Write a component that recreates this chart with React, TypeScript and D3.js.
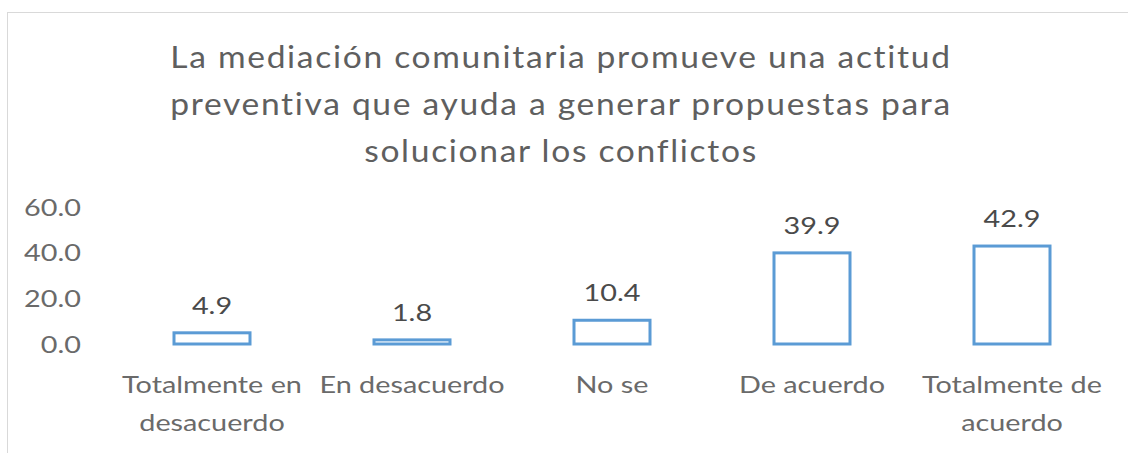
import React from "react";
import * as d3 from "d3";

const titleLines = [
  "La mediación comunitaria promueve una actitud",
  "preventiva que ayuda a generar propuestas para",
  "solucionar los conflictos",
];
const categories = ["Totalmente en desacuerdo", "En desacuerdo", "No se", "De acuerdo", "Totalmente de acuerdo"];
const categoryLines = [
  ["Totalmente en", "desacuerdo"],
  ["En desacuerdo"],
  ["No se"],
  ["De acuerdo"],
  ["Totalmente de", "acuerdo"],
];
const values = [4.9, 1.8, 10.4, 39.9, 42.9];
const yTicks = [0, 20, 40, 60];

const W = 1128;
const H = 453;
const FONT = "Lato, 'Open Sans', sans-serif";
const SX = 1.2;

function Txt({ x, y, children, size, fill, anchor = "middle", sx = SX, ls = 0 }: any) {
  return (
    <g transform={`translate(${x},${y}) scale(${sx},1)`}>
      <text x={0} y={0} fontSize={size} fill={fill} textAnchor={anchor} fontFamily={FONT} fontWeight={400} letterSpacing={ls}>
        {children}
      </text>
    </g>
  );
}

export default function App() {
  const x = d3.scaleBand<string>().domain(categories).range([112, 1112]).paddingInner(0.62).paddingOuter(0.31);
  const y = d3.scaleLinear().domain([0, 60]).range([344, 207]);
  const bw = x.bandwidth();
  return (
    <svg width={W} height={H} style={{ position: "absolute", left: 0, top: 0, background: "#fff" }}>
      <rect x={7.5} y={12.5} width={W + 20} height={H + 20} fill="#fff" stroke="#D9D9D9" strokeWidth={1} />
      {titleLines.map((t, i) => (
        <Txt key={i} x={561} y={68 + i * 47} size={30} fill="#5f5f5f" sx={1.12} ls={1.5}>
          {t}
        </Txt>
      ))}
      {yTicks.map((t) => (
        <Txt key={t} x={81} y={y(t) + 8.5} size={24} fill="#6a6a6a" anchor="end">
          {t.toFixed(1)}
        </Txt>
      ))}
      {categories.map((c, i) => {
        const x0 = x(c)!;
        const v = values[i];
        return (
          <g key={c}>
            <rect x={x0} y={y(v)} width={bw} height={y(0) - y(v)} fill="#fff" stroke="#5B9BD5" strokeWidth={3} />
            <Txt x={x0 + bw / 2} y={y(v) - 19} size={24} fill="#4a4a4a">
              {v.toFixed(1)}
            </Txt>
            {categoryLines[i].map((l, j) => (
              <Txt key={j} x={x0 + bw / 2} y={393 + j * 38} size={24} fill="#6a6a6a">
                {l}
              </Txt>
            ))}
          </g>
        );
      })}
    </svg>
  );
}
